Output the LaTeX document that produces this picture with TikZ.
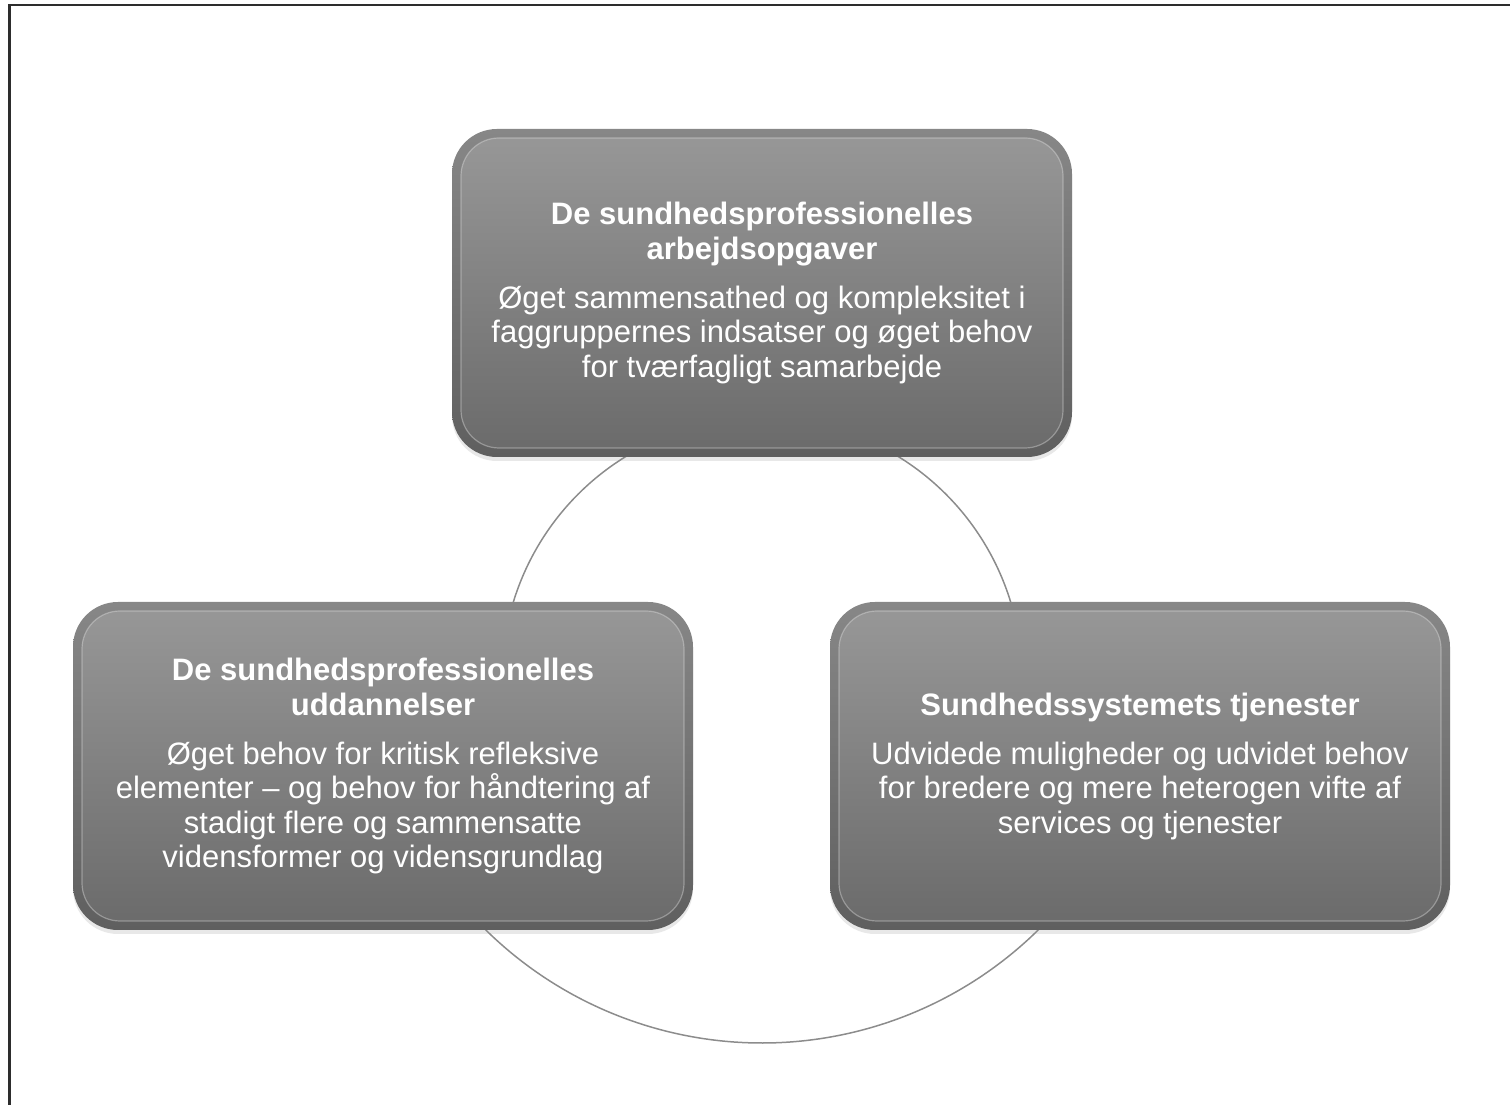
\documentclass[tikz,border=0pt]{standalone}
\usepackage{fontspec}
\setmainfont{Liberation Sans}
\usetikzlibrary{shadows,backgrounds}
\definecolor{rimtop}{RGB}{135,135,135}
\definecolor{rimbot}{RGB}{95,95,95}
\definecolor{facetop}{RGB}{152,152,152}
\definecolor{facebot}{RGB}{106,106,106}
\definecolor{hilite}{RGB}{225,225,225}
\definecolor{ringgray}{RGB}{140,140,140}
\definecolor{framegray}{RGB}{45,45,45}
\begin{document}
\begin{tikzpicture}[x=1pt,y=1pt,
  box/.style={rounded corners=45pt, minimum width=620pt, minimum height=328pt,
    inner sep=0pt, top color=rimtop, bottom color=rimbot, text=white,
    align=center, font=\fontsize{31}{34.5}\selectfont,
    drop shadow={opacity=0.18, shadow xshift=0pt, shadow yshift=-4pt},
    path picture={\shadedraw[rounded corners=38pt, top color=facetop,
      bottom color=facebot, draw=hilite, draw opacity=0.4, line width=1.2pt]
      ([shift={(9pt,-9pt)}]path picture bounding box.north west) rectangle
      ([shift={(-9pt,9pt)}]path picture bounding box.south east);}},
  ring/.style={draw=ringgray, line width=1.5pt},
  frameline/.style={draw=framegray, line width=2.5pt}]
\useasboundingbox (0,0) rectangle (1510,1105);
\draw[frameline] (9.5,0) -- (9.5,1100) -- (1510,1100);
\node[box] (top) at (762,812) {\textbf{De sundhedsprofessionelles}\\\textbf{arbejdsopgaver}\\[14.5pt]Øget sammensathed og kompleksitet i\\faggruppernes indsatser og øget behov\\for tværfagligt samarbejde};
\node[box] (left) at (383,339) {\textbf{De sundhedsprofessionelles}\\\textbf{uddannelser}\\[14.5pt]Øget behov for kritisk refleksive\\elementer – og behov for håndtering af\\stadigt flere og sammensatte\\vidensformer og vidensgrundlag};
\node[box] (right) at (1140,339) {\textbf{Sundhedssystemets tjenester}\\[14.5pt]Udvidede muligheder og udvidet behov\\for bredere og mere heterogen vifte af\\services og tjenester};
\coordinate (c1) at (762,427);
\coordinate (c2) at (762,456);
\begin{scope}[on background layer]
\draw[ring] (c1) ++(115:260) arc[start angle=115, end angle=168, radius=260];
\draw[ring] (c1) ++(65:260) arc[start angle=65, end angle=12, radius=260];
\draw[ring] (c2) ++(-138:394) arc[start angle=-138, end angle=-42, radius=394];
\end{scope}
\end{tikzpicture}
\end{document}
